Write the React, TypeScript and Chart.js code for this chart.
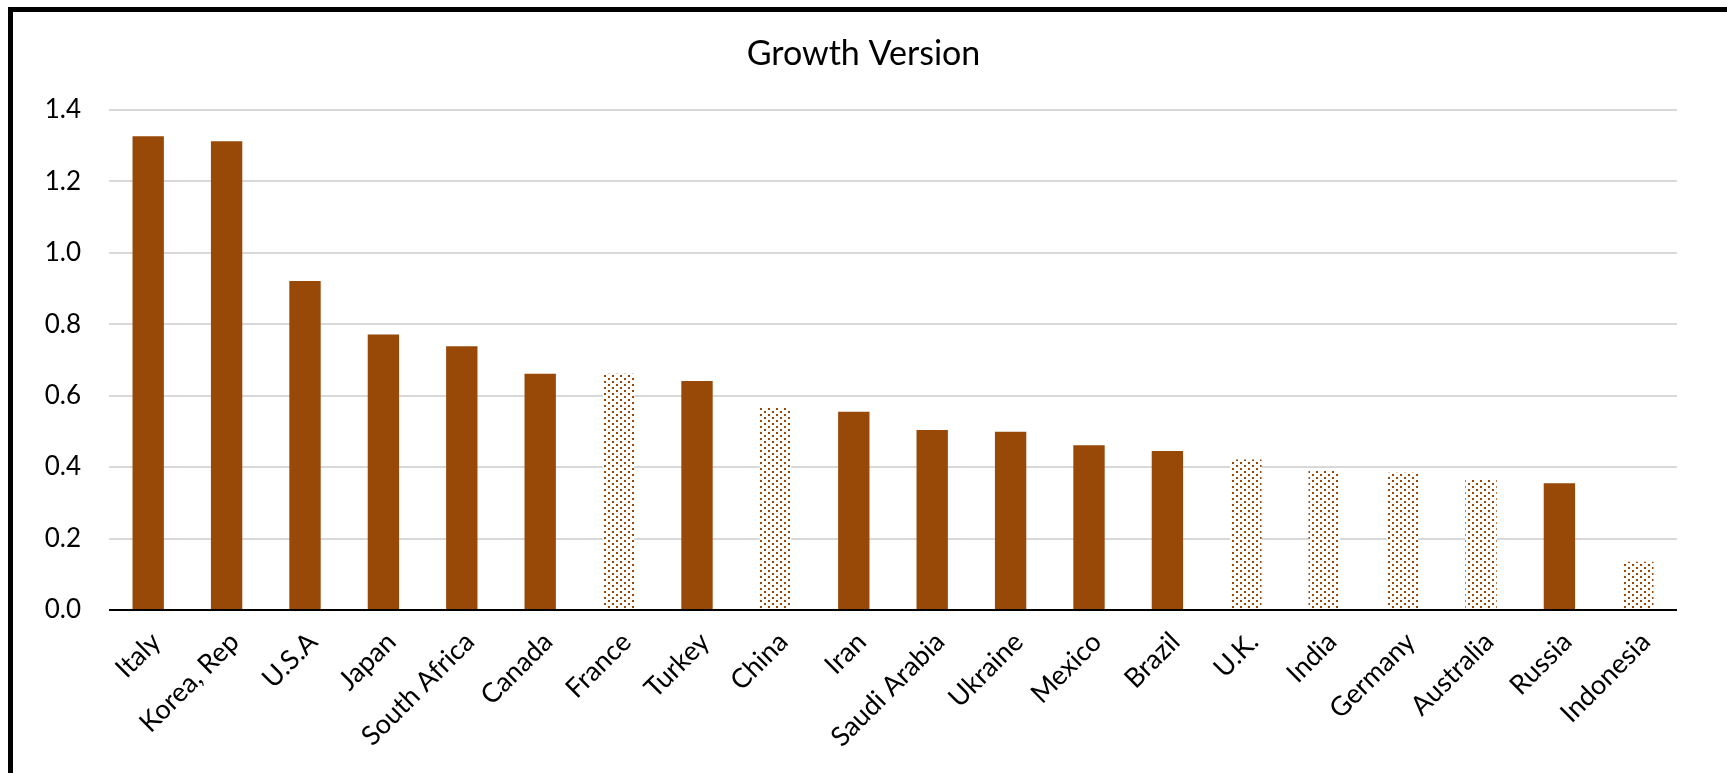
import React, { useEffect, useRef } from "react";
import { Chart, registerables } from "chart.js";

Chart.register(...registerables);

// Countries, ordered by growth value
const countries = [
  "Italy", "Korea, Rep", "U.S.A", "Japan", "South Africa", "Canada", "France",
  "Turkey", "China", "Iran", "Saudi Arabia", "Ukraine", "Mexico", "Brazil",
  "U.K.", "India", "Germany", "Australia", "Russia", "Indonesia",
];

const growthValues = [
  1.326, 1.312, 0.921, 0.771, 0.738, 0.661, 0.661,
  0.641, 0.566, 0.555, 0.504, 0.499, 0.461, 0.445,
  0.421, 0.389, 0.384, 0.367, 0.355, 0.135,
];

// Countries drawn with a dotted fill instead of a solid one
const dottedCountries = ["France", "China", "U.K.", "India", "Germany", "Australia", "Indonesia"];

const yTicks = [0, 0.2, 0.4, 0.6, 0.8, 1.0, 1.2, 1.4];

const BROWN = "#984807";
const FONT = "Lato, 'DejaVu Sans', sans-serif";

// Staggered dot fill on white
function makeDotPattern(ctx: CanvasRenderingContext2D): CanvasPattern | string {
  const tile = document.createElement("canvas");
  tile.width = 8;
  tile.height = 6;
  const t = tile.getContext("2d");
  if (!t) return BROWN;
  t.fillStyle = "#ffffff";
  t.fillRect(0, 0, 8, 6);
  t.fillStyle = BROWN;
  t.fillRect(0, 0, 2, 2);
  t.fillRect(4, 3, 2, 2);
  return ctx.createPattern(tile, "repeat") || BROWN;
}

export default function App() {
  const canvasRef = useRef<HTMLCanvasElement | null>(null);

  useEffect(() => {
    const canvas = canvasRef.current;
    if (!canvas) return;
    const ctx = canvas.getContext("2d");
    if (!ctx) return;
    const dots = makeDotPattern(ctx);
    const fills = countries.map((c) => (dottedCountries.includes(c) ? dots : BROWN));

    const chart = new Chart(ctx, {
      type: "bar",
      data: {
        labels: countries,
        datasets: [
          {
            label: "Growth Version",
            data: growthValues,
            backgroundColor: fills as any,
            borderWidth: 0,
            barPercentage: 0.4,
            categoryPercentage: 1,
            yAxisID: "y",
          },
        ],
      },
      options: {
        animation: false,
        responsive: true,
        maintainAspectRatio: false,
        layout: { padding: 0 },
        plugins: {
          legend: { display: false },
          tooltip: { enabled: false },
          title: {
            display: true,
            text: "Growth Version",
            color: "#000",
            font: { family: FONT, size: 34, weight: "normal" },
            padding: { top: 34, bottom: 35 },
          },
        },
        scales: {
          x: {
            grid: { display: false },
            border: { display: false },
            ticks: {
              color: "#000",
              font: { family: FONT, size: 27 },
              autoSkip: false,
              maxRotation: 45,
              minRotation: 45,
              padding: 8,
              labelOffset: 8,
            },
            afterFit: (scale: any) => {
              scale.height = 163;
            },
          },
          y: {
            min: 0,
            max: 1.4,
            afterBuildTicks: (scale: any) => {
              scale.ticks = yTicks.map((v) => ({ value: v }));
            },
            grid: {
              drawTicks: false,
              color: (c: any) => (c.tick && c.tick.value === 0 ? "#000" : "#d9d9d9"),
              lineWidth: 2,
            },
            border: { display: false },
            ticks: {
              color: "#000",
              font: { family: FONT, size: 26 },
              padding: 28,
              callback: (v: any) => Number(v).toFixed(1),
            },
            afterFit: (scale: any) => {
              scale.width = 109;
            },
          },
          // empty right-hand margin so the plot ends short of the frame
          yRight: {
            position: "right",
            min: 0,
            max: 1.4,
            grid: { display: false },
            border: { display: false },
            ticks: { display: false },
            afterFit: (scale: any) => {
              scale.width = 50;
            },
          },
        },
      },
    });
    return () => chart.destroy();
  }, []);

  return (
    <>
      <div style={{ position: "fixed", left: 0, top: 0, width: 1727, height: 773, background: "#fff" }}>
        <canvas ref={canvasRef} />
      </div>
      <div
        style={{
          position: "fixed",
          left: 8,
          top: 7,
          width: 1800,
          height: 900,
          border: "5px solid #000",
          pointerEvents: "none",
        }}
      />
    </>
  );
}
